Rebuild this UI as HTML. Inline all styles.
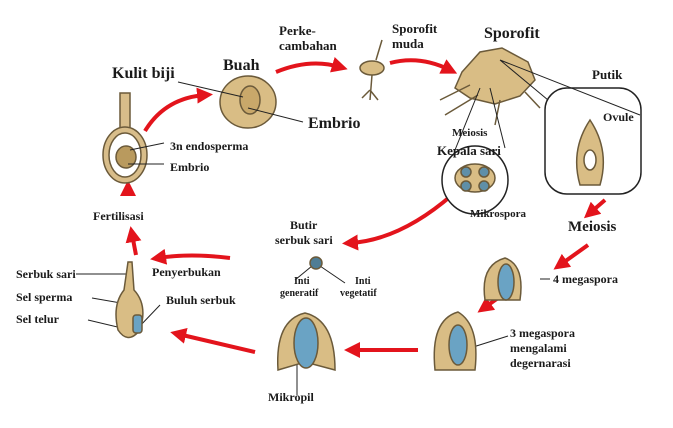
<!DOCTYPE html>
<html><head><style>
body{margin:0;background:#fff}
svg{display:block}
text{font-family:"Liberation Serif",serif;font-weight:bold;fill:#1a1a1a}
</style></head><body>
<svg width="673" height="428" viewBox="0 0 673 428" xmlns="http://www.w3.org/2000/svg">
<defs>
<marker id="a" markerWidth="4" markerHeight="4" refX="2" refY="2" orient="auto"><path d="M0,0L4,2L0,4Z" fill="#e3141c"/></marker>
</defs>
<g stroke="#e3141c" stroke-width="4" fill="none" marker-end="url(#a)">
<path d="M145,131 Q165,98 205,95"/>
<path d="M276,72 Q310,58 340,67"/>
<path d="M390,63 Q420,55 450,70"/>
<path d="M452,195 Q400,240 350,243"/>
<path d="M230,258 Q190,253 158,258"/>
<path d="M136,255 L132,234"/>
<path d="M128,196 L128,188"/>
<path d="M605,200 L590,213"/>
<path d="M588,245 L560,265"/>
<path d="M498,298 L484,308"/>
<path d="M418,350 L352,350"/>
<path d="M255,352 L178,334"/>
</g>
<g stroke="#6b5a3a" stroke-width="1.5">
<rect x="120" y="93" width="10" height="45" fill="#d8bd8a"/>
<ellipse cx="125" cy="155" rx="22" ry="28" fill="#d8bd8a"/>
<ellipse cx="125" cy="155" rx="16" ry="22" fill="#fff"/>
<ellipse cx="126" cy="157" rx="10" ry="11" fill="#b99a5e"/>
<ellipse cx="248" cy="102" rx="28" ry="26" fill="#d9bd85"/>
<ellipse cx="250" cy="100" rx="10" ry="14" fill="#c9a86a"/>
<ellipse cx="372" cy="68" rx="12" ry="7" fill="#d9bd85"/>
<path d="M372,75 L370,100 M370,90 L362,98 M370,90 L378,100" fill="none"/>
<path d="M376,60 L382,40" fill="none"/>
<path d="M462,72 L480,52 L502,48 L528,62 L535,80 L520,96 L495,104 L470,98 L455,88 Z" fill="#d9bd85"/>
<path d="M440,100 L470,85 M445,115 L478,95 M500,100 L495,125 M525,92 L540,108" fill="none"/>
<ellipse cx="475" cy="180" rx="33" ry="34" fill="#fff" stroke="#222"/>
<ellipse cx="475" cy="178" rx="20" ry="14" fill="#d9bd85"/>
<circle cx="466" cy="172" r="5" fill="#5f8fa8"/><circle cx="484" cy="172" r="5" fill="#5f8fa8"/>
<circle cx="466" cy="186" r="5" fill="#5f8fa8"/><circle cx="484" cy="186" r="5" fill="#5f8fa8"/>
<rect x="545" y="88" width="96" height="106" rx="22" fill="#fff" stroke="#222"/>
<path d="M580,185 Q570,150 590,120 Q610,150 600,185 Z" fill="#d9bd85"/>
<ellipse cx="590" cy="160" rx="6" ry="10" fill="#fff"/>
</g>
<g stroke="#222" stroke-width="1" fill="none">
<path d="M500,60 L640,115 M500,60 L548,100 M480,88 L455,150 M490,88 L505,148"/>
<path d="M178,82 L243,97"/><path d="M248,108 L303,122"/>
<path d="M130,150 L164,143"/><path d="M128,164 L164,164"/>
<path d="M312,266 L295,280 M320,266 L345,283"/>
<path d="M76,274 L130,274 M92,298 L132,305 M88,320 L130,330 M160,305 L138,328"/>
<path d="M540,279 L550,279 M470,348 L508,336 M297,362 L297,395"/>
</g>
<g stroke="#6b5a3a" stroke-width="1.5">
<path d="M128,262 L124,290 Q112,305 118,330 Q128,345 140,330 Q148,305 134,290 L132,262 Z" fill="#d9bd85"/>
<rect x="133" y="315" width="9" height="18" rx="3" fill="#6aa3c4"/>
<circle cx="316" cy="263" r="6" fill="#4f7d95"/>
<path d="M485,300 Q480,265 505,258 Q525,265 520,300 Z" fill="#d9bd85"/>
<ellipse cx="506" cy="282" rx="8" ry="18" fill="#6aa3c4"/>
<path d="M435,370 Q430,320 458,312 Q480,325 475,370 Z" fill="#d9bd85"/>
<ellipse cx="458" cy="345" rx="9" ry="20" fill="#6aa3c4"/>
<path d="M278,370 Q275,320 305,313 Q335,320 335,370 L305,362 Z" fill="#d9bd85"/>
<ellipse cx="306" cy="343" rx="12" ry="25" fill="#6aa3c4"/>
</g>
<text x="112" y="78" font-size="16">Kulit biji</text>
<text x="223" y="70" font-size="16">Buah</text>
<text x="279" y="35" font-size="13">Perke-</text>
<text x="279" y="50" font-size="13">cambahan</text>
<text x="392" y="33" font-size="13">Sporofit</text>
<text x="392" y="48" font-size="13">muda</text>
<text x="484" y="38" font-size="16">Sporofit</text>
<text x="592" y="79" font-size="13">Putik</text>
<text x="603" y="121" font-size="12">Ovule</text>
<text x="452" y="136" font-size="11">Meiosis</text>
<text x="437" y="155" font-size="13">Kepala sari</text>
<text x="470" y="217" font-size="11">Mikrospora</text>
<text x="568" y="231" font-size="15">Meiosis</text>
<text x="308" y="128" font-size="16">Embrio</text>
<text x="170" y="150" font-size="12">3n endosperma</text>
<text x="170" y="171" font-size="12">Embrio</text>
<text x="93" y="220" font-size="12">Fertilisasi</text>
<text x="290" y="229" font-size="12">Butir</text>
<text x="275" y="244" font-size="12">serbuk sari</text>
<text x="152" y="276" font-size="12">Penyerbukan</text>
<text x="294" y="284" font-size="10" font-weight="normal">Inti</text>
<text x="280" y="296" font-size="10" font-weight="normal">generatif</text>
<text x="355" y="284" font-size="10" font-weight="normal">Inti</text>
<text x="340" y="296" font-size="10" font-weight="normal">vegetatif</text>
<text x="16" y="278" font-size="12">Serbuk sari</text>
<text x="16" y="301" font-size="12">Sel sperma</text>
<text x="16" y="323" font-size="12">Sel telur</text>
<text x="166" y="304" font-size="12">Buluh serbuk</text>
<text x="553" y="283" font-size="12">4 megaspora</text>
<text x="510" y="337" font-size="12">3 megaspora</text>
<text x="510" y="352" font-size="12">mengalami</text>
<text x="510" y="367" font-size="12">degernarasi</text>
<text x="268" y="401" font-size="12">Mikropil</text>
</svg>
</body></html>
